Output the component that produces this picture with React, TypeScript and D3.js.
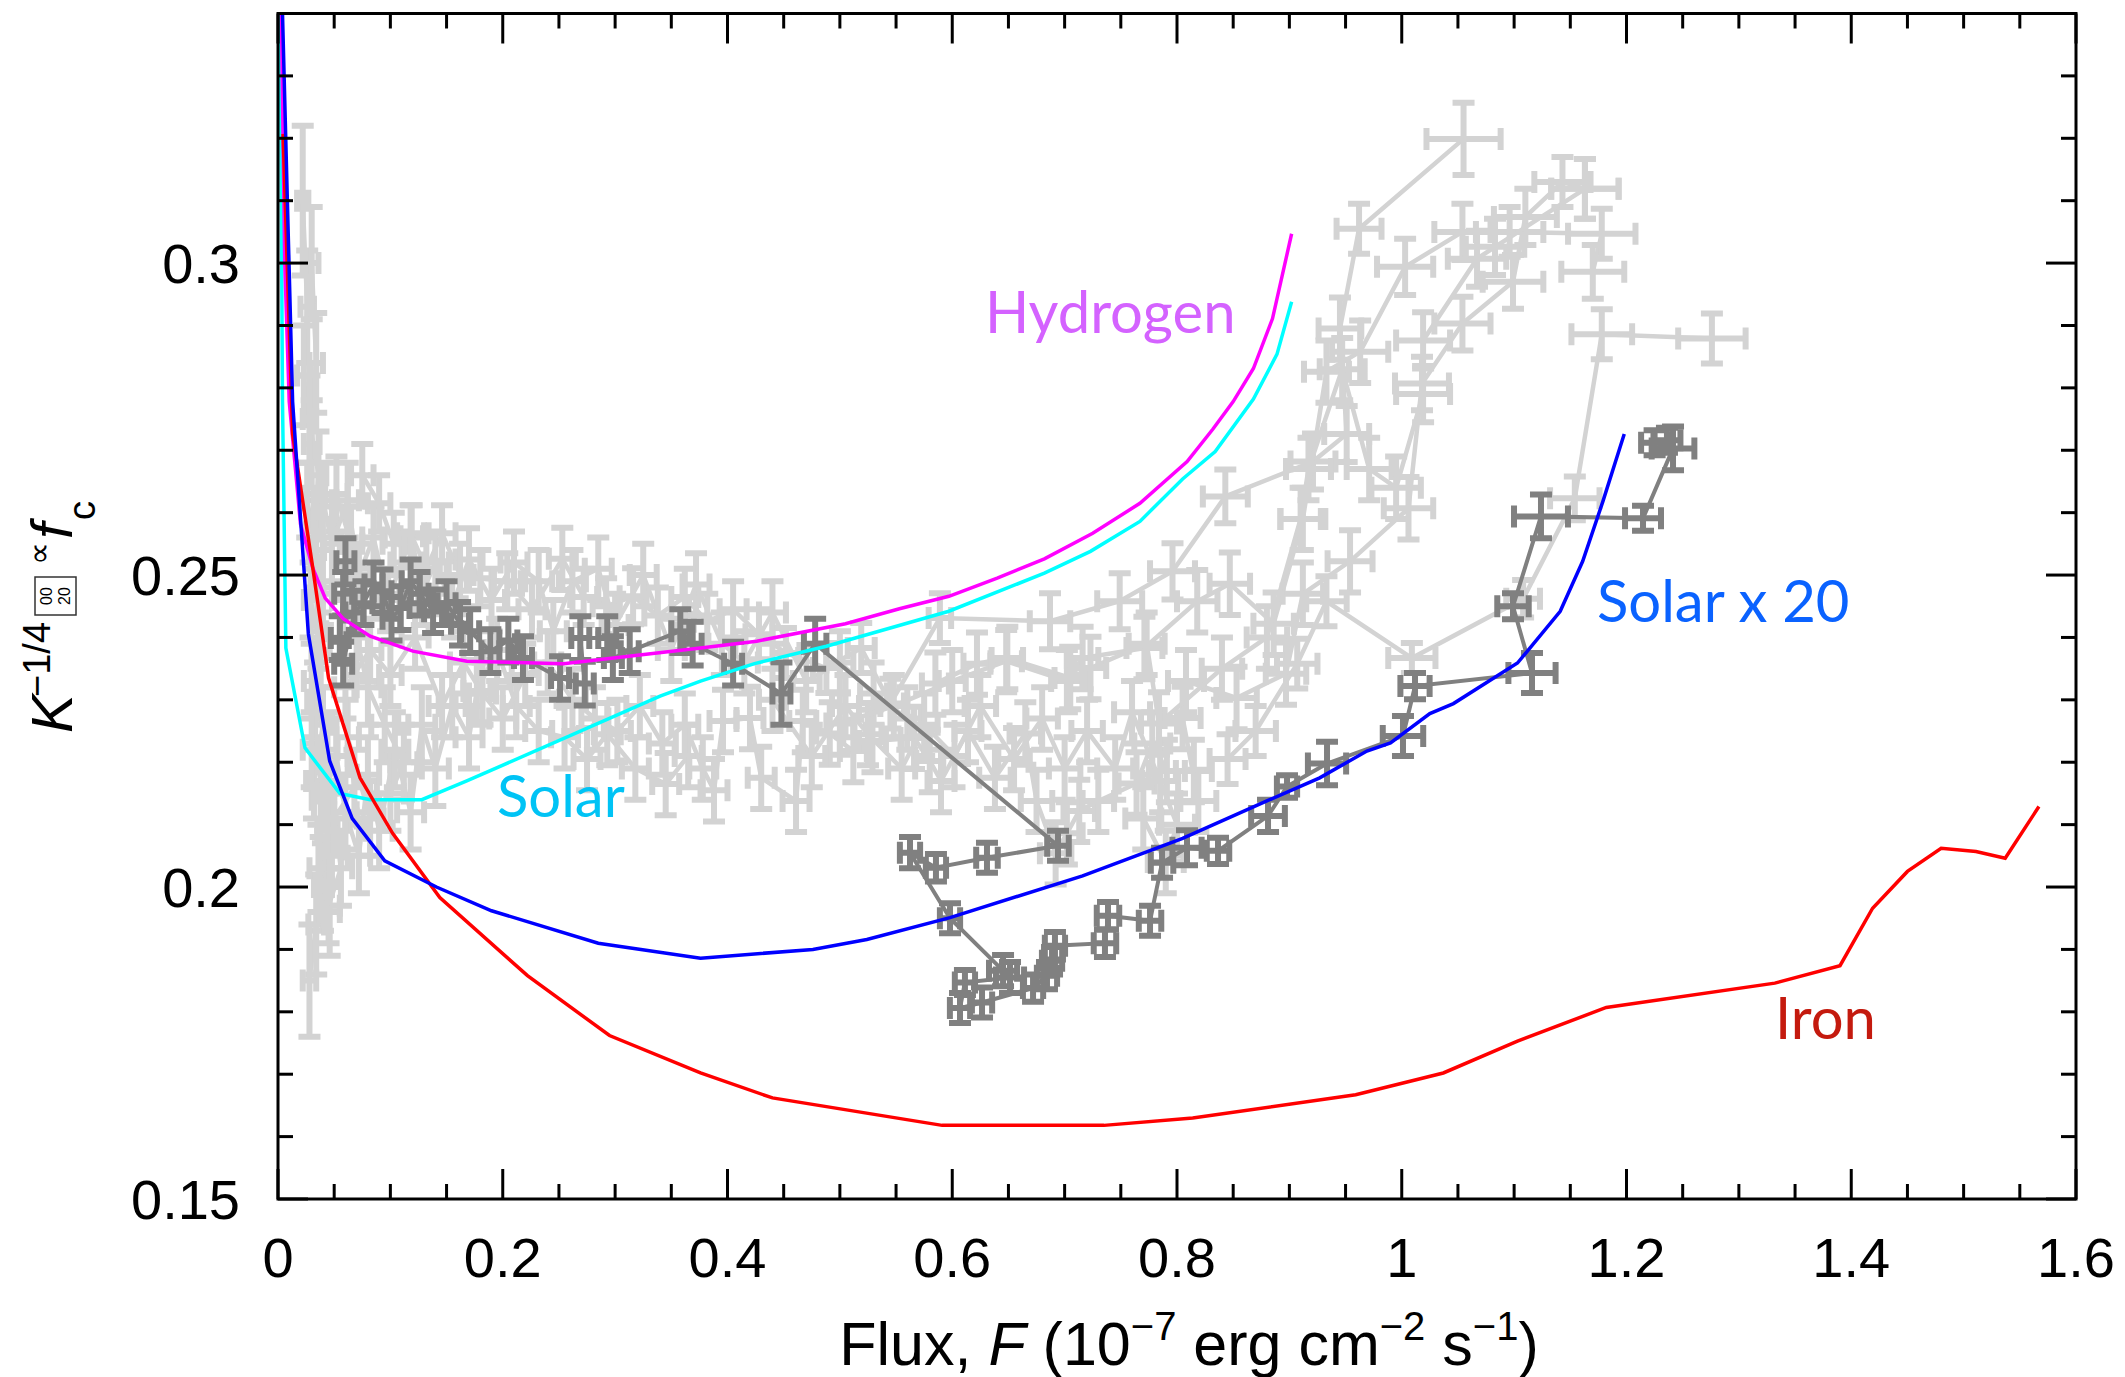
import React from 'react';
import * as d3 from 'd3';

const W = 2125;
const H = 1377;

// ---------- axis ticks ----------
const xTickValues = [0, 0.2, 0.4, 0.6, 0.8, 1, 1.2, 1.4, 1.6];
const xTickLabels = ['0', '0.2', '0.4', '0.6', '0.8', '1', '1.2', '1.4', '1.6'];
const yTickValues = [0.15, 0.2, 0.25, 0.3];
const yTickLabels = ['0.15', '0.2', '0.25', '0.3'];

// ---------- model curves [flux, value] ----------
const hydrogen: [number, number][] = [
  [0.003, 0.340], [0.006, 0.300], [0.010, 0.2778], [0.020, 0.2582], [0.031, 0.2511], [0.042, 0.2463],
  [0.058, 0.2430], [0.082, 0.2402], [0.120, 0.2378], [0.168, 0.2362], [0.254, 0.2358], [0.376, 0.2383],
  [0.426, 0.2394], [0.505, 0.2422], [0.553, 0.2446], [0.597, 0.2466], [0.640, 0.2495], [0.682, 0.2526],
  [0.725, 0.2567], [0.767, 0.2615], [0.809, 0.2682], [0.832, 0.2734], [0.850, 0.2778], [0.868, 0.2831],
  [0.885, 0.2911], [0.902, 0.3047],
];
const solar: [number, number][] = [
  [0.002, 0.340], [0.004, 0.2778], [0.007, 0.2383], [0.024, 0.2223], [0.055, 0.2150], [0.082, 0.2140],
  [0.128, 0.2140], [0.168, 0.2170], [0.340, 0.2306], [0.376, 0.2330], [0.424, 0.2358], [0.488, 0.2386],
  [0.597, 0.2442], [0.682, 0.2503], [0.723, 0.2538], [0.767, 0.2586], [0.805, 0.2654], [0.834, 0.2698],
  [0.868, 0.2782], [0.889, 0.2854], [0.902, 0.2938],
];
const solar20: [number, number][] = [
  [0.004, 0.340], [0.013, 0.2778], [0.027, 0.2406], [0.046, 0.2202], [0.066, 0.2110], [0.095, 0.2042],
  [0.141, 0.2000], [0.190, 0.1962], [0.285, 0.1910], [0.376, 0.1886], [0.476, 0.1900], [0.524, 0.1916],
  [0.598, 0.1951], [0.716, 0.2018], [0.805, 0.2078], [0.880, 0.2138], [0.927, 0.2175], [0.969, 0.2218],
  [0.990, 0.2231], [1.025, 0.2278], [1.046, 0.2294], [1.103, 0.2359], [1.141, 0.2442], [1.161, 0.2522],
  [1.179, 0.2618], [1.198, 0.2726],
];
const iron: [number, number][] = [
  [0.0045, 0.3207], [0.013, 0.2726], [0.031, 0.2511], [0.045, 0.2335], [0.073, 0.2175], [0.102, 0.2086],
  [0.144, 0.1983], [0.222, 0.1858], [0.295, 0.1762], [0.376, 0.1702], [0.440, 0.1662], [0.591, 0.1618],
  [0.735, 0.1618], [0.814, 0.1630], [0.959, 0.1667], [1.037, 0.1702], [1.103, 0.1753], [1.182, 0.1807],
  [1.332, 0.1846], [1.390, 0.1874], [1.419, 0.1966], [1.450, 0.2025], [1.480, 0.2062], [1.511, 0.2057],
  [1.537, 0.2046], [1.567, 0.2129],
];

// ---------- observations [flux, value, fluxErr, valueErr] ----------
type Pt = [number, number, number, number];

const lightA: Pt[] = [
  [0.022, 0.310, 0.005, 0.012], [0.026, 0.293, 0.006, 0.009], [0.023, 0.282, 0.006, 0.008],
  [0.030, 0.271, 0.007, 0.007], [0.026, 0.262, 0.006, 0.006], [0.034, 0.254, 0.007, 0.006],
  [0.029, 0.246, 0.006, 0.006], [0.038, 0.238, 0.008, 0.006], [0.033, 0.230, 0.007, 0.006],
  [0.044, 0.222, 0.009, 0.006], [0.038, 0.214, 0.008, 0.006], [0.048, 0.206, 0.010, 0.006],
  [0.040, 0.200, 0.008, 0.007], [0.034, 0.194, 0.007, 0.008], [0.028, 0.185, 0.006, 0.009],
];
const lightA2: Pt[] = [
  [0.030, 0.300, 0.006, 0.009], [0.034, 0.284, 0.006, 0.008], [0.028, 0.275, 0.006, 0.007],
  [0.036, 0.266, 0.007, 0.007], [0.032, 0.257, 0.007, 0.006], [0.040, 0.248, 0.008, 0.006],
  [0.036, 0.241, 0.007, 0.006], [0.030, 0.233, 0.007, 0.006], [0.040, 0.226, 0.008, 0.006],
  [0.032, 0.217, 0.007, 0.006], [0.044, 0.209, 0.009, 0.006], [0.036, 0.203, 0.008, 0.007],
  [0.046, 0.196, 0.009, 0.007],
];
const lightB: Pt[] = [
  [0.045, 0.197, 0.010, 0.006], [0.056, 0.203, 0.010, 0.006], [0.050, 0.211, 0.010, 0.006],
  [0.068, 0.216, 0.010, 0.006], [0.062, 0.224, 0.010, 0.006], [0.082, 0.211, 0.012, 0.006],
  [0.100, 0.215, 0.012, 0.006], [0.112, 0.220, 0.012, 0.006], [0.095, 0.226, 0.012, 0.006],
  [0.080, 0.232, 0.012, 0.006], [0.070, 0.240, 0.010, 0.006], [0.058, 0.246, 0.010, 0.006],
  [0.065, 0.255, 0.010, 0.006], [0.052, 0.263, 0.010, 0.006],
];
const lightC: Pt[] = [
  [0.075, 0.266, 0.010, 0.005], [0.090, 0.2615, 0.010, 0.0045], [0.103, 0.255, 0.010, 0.005],
  [0.118, 0.2567, 0.012, 0.0045], [0.132, 0.251, 0.012, 0.005], [0.146, 0.2567, 0.012, 0.0045],
  [0.162, 0.250, 0.012, 0.005], [0.180, 0.2495, 0.012, 0.0045], [0.204, 0.249, 0.012, 0.0045],
  [0.226, 0.2445, 0.012, 0.0045], [0.253, 0.2526, 0.012, 0.005], [0.272, 0.2465, 0.012, 0.0045],
  [0.292, 0.245, 0.012, 0.0045], [0.316, 0.2466, 0.012, 0.0045], [0.338, 0.2435, 0.012, 0.0045],
  [0.362, 0.2465, 0.012, 0.0045], [0.382, 0.2425, 0.012, 0.0045], [0.405, 0.2445, 0.012, 0.0045],
  [0.428, 0.2405, 0.012, 0.004], [0.452, 0.2375, 0.012, 0.004], [0.488, 0.2351, 0.012, 0.004],
  [0.519, 0.2383, 0.012, 0.004], [0.545, 0.2294, 0.012, 0.004], [0.589, 0.2431, 0.010, 0.004],
  [0.687, 0.2426, 0.018, 0.0045], [0.749, 0.2458, 0.020, 0.0045], [0.796, 0.2506, 0.020, 0.0045],
  [0.843, 0.2626, 0.020, 0.0043], [0.921, 0.2682, 0.020, 0.0045], [0.951, 0.2726, 0.020, 0.0045],
  [0.945, 0.2895, 0.019, 0.005], [0.962, 0.3055, 0.020, 0.004], [1.055, 0.3199, 0.033, 0.0058],
];
const lightD: Pt[] = [
  [0.060, 0.232, 0.010, 0.005], [0.082, 0.238, 0.010, 0.005], [0.100, 0.234, 0.010, 0.005],
  [0.122, 0.240, 0.012, 0.005], [0.146, 0.229, 0.012, 0.005], [0.165, 0.236, 0.012, 0.005],
  [0.182, 0.231, 0.012, 0.005], [0.200, 0.227, 0.012, 0.005], [0.220, 0.234, 0.012, 0.005],
  [0.240, 0.236, 0.012, 0.005], [0.262, 0.230, 0.012, 0.005], [0.282, 0.227, 0.012, 0.005],
  [0.302, 0.225, 0.012, 0.005], [0.322, 0.229, 0.012, 0.005], [0.342, 0.223, 0.012, 0.005],
  [0.362, 0.226, 0.012, 0.005], [0.378, 0.219, 0.012, 0.005], [0.388, 0.2155, 0.012, 0.005],
  [0.396, 0.2266, 0.012, 0.005], [0.420, 0.2271, 0.012, 0.005], [0.430, 0.2175, 0.012, 0.005],
  [0.461, 0.2138, 0.012, 0.005], [0.467, 0.2266, 0.012, 0.005], [0.491, 0.2246, 0.012, 0.005],
  [0.512, 0.2218, 0.012, 0.005], [0.529, 0.2234, 0.012, 0.005], [0.566, 0.2239, 0.012, 0.005],
  [0.580, 0.2202, 0.012, 0.005], [0.590, 0.2170, 0.012, 0.005], [0.614, 0.2250, 0.012, 0.005],
  [0.638, 0.2175, 0.014, 0.005], [0.665, 0.2246, 0.014, 0.005], [0.675, 0.2138, 0.014, 0.005],
  [0.692, 0.2054, 0.014, 0.005], [0.702, 0.2086, 0.014, 0.005], [0.713, 0.2122, 0.014, 0.005],
  [0.730, 0.2138, 0.014, 0.005], [0.764, 0.2166, 0.016, 0.005], [0.778, 0.2230, 0.016, 0.005],
  [0.791, 0.2186, 0.016, 0.005], [0.815, 0.2186, 0.016, 0.005], [0.819, 0.2138, 0.016, 0.005],
  [0.805, 0.2271, 0.016, 0.005], [0.808, 0.2330, 0.016, 0.005], [0.853, 0.2303, 0.018, 0.005],
  [0.897, 0.2342, 0.018, 0.005], [0.912, 0.2470, 0.018, 0.005], [0.954, 0.2522, 0.020, 0.005],
  [1.006, 0.2607, 0.022, 0.005], [1.018, 0.2807, 0.024, 0.0043], [1.054, 0.2903, 0.025, 0.0043],
  [1.099, 0.2970, 0.027, 0.0043], [1.110, 0.3074, 0.028, 0.0045], [1.143, 0.3130, 0.025, 0.004],
  [1.163, 0.3119, 0.030, 0.0048],
];
const lightE: Pt[] = [
  [0.500, 0.2262, 0.012, 0.005], [0.548, 0.2290, 0.012, 0.005], [0.600, 0.2330, 0.012, 0.005],
  [0.648, 0.2362, 0.014, 0.005], [0.702, 0.2330, 0.014, 0.005], [0.716, 0.2367, 0.014, 0.005],
  [0.771, 0.2383, 0.016, 0.005], [0.818, 0.2458, 0.018, 0.005], [0.847, 0.2486, 0.018, 0.005],
  [0.886, 0.2422, 0.018, 0.005], [0.912, 0.2590, 0.020, 0.005], [0.933, 0.2826, 0.020, 0.005],
  [0.963, 0.2858, 0.025, 0.005], [1.003, 0.2994, 0.025, 0.0045], [1.054, 0.3050, 0.025, 0.0045],
  [1.096, 0.3050, 0.030, 0.004], [1.178, 0.3047, 0.030, 0.004], [1.170, 0.2986, 0.028, 0.0043],
];
const lightF: Pt[] = [
  [0.585, 0.2326, 0.012, 0.005], [0.622, 0.2358, 0.012, 0.005], [0.649, 0.2367, 0.014, 0.005],
  [0.705, 0.2335, 0.014, 0.005], [0.723, 0.2351, 0.014, 0.005], [0.773, 0.2390, 0.016, 0.005],
  [0.784, 0.2262, 0.016, 0.005], [0.840, 0.2350, 0.018, 0.005], [0.880, 0.2400, 0.018, 0.005],
  [0.910, 0.2590, 0.018, 0.005], [0.917, 0.2670, 0.020, 0.005], [0.947, 0.2830, 0.020, 0.005],
  [0.971, 0.2670, 0.020, 0.005], [0.995, 0.2640, 0.022, 0.005], [1.019, 0.2790, 0.024, 0.0045],
  [1.019, 0.2876, 0.024, 0.0045], [1.067, 0.3007, 0.026, 0.0045], [1.083, 0.3026, 0.026, 0.0045],
  [1.163, 0.3119, 0.030, 0.0048],
];
const lightG: Pt[] = [
  [1.276, 0.2879, 0.030, 0.004], [1.178, 0.2886, 0.027, 0.004], [1.154, 0.2623, 0.022, 0.0035],
  [1.108, 0.2462, 0.015, 0.003], [1.009, 0.2367, 0.021, 0.0024], [0.933, 0.2458, 0.018, 0.004],
  [0.907, 0.2358, 0.018, 0.004], [0.870, 0.2250, 0.018, 0.004], [0.845, 0.2205, 0.016, 0.004],
];
const lightH: Pt[] = [
  [0.040, 0.262, 0.008, 0.006], [0.048, 0.255, 0.008, 0.006], [0.062, 0.262, 0.010, 0.006],
  [0.072, 0.250, 0.010, 0.005], [0.085, 0.256, 0.010, 0.005], [0.098, 0.246, 0.010, 0.005],
  [0.110, 0.252, 0.010, 0.005], [0.119, 0.2562, 0.010, 0.005], [0.128, 0.247, 0.012, 0.005],
  [0.140, 0.252, 0.012, 0.005], [0.155, 0.245, 0.012, 0.005], [0.170, 0.2525, 0.012, 0.005],
  [0.190, 0.246, 0.012, 0.005], [0.210, 0.252, 0.012, 0.005], [0.232, 0.249, 0.012, 0.005],
  [0.245, 0.241, 0.012, 0.005], [0.262, 0.249, 0.012, 0.005], [0.285, 0.251, 0.012, 0.005],
  [0.300, 0.242, 0.012, 0.005], [0.325, 0.250, 0.012, 0.005], [0.350, 0.238, 0.012, 0.005],
  [0.372, 0.2485, 0.012, 0.005], [0.395, 0.239, 0.012, 0.005], [0.415, 0.236, 0.012, 0.005],
  [0.440, 0.244, 0.012, 0.005], [0.470, 0.233, 0.012, 0.005], [0.500, 0.236, 0.012, 0.005],
  [0.530, 0.231, 0.012, 0.005], [0.560, 0.227, 0.012, 0.005],
];
const lightI: Pt[] = [
  [0.030, 0.222, 0.008, 0.006], [0.042, 0.215, 0.008, 0.006], [0.052, 0.221, 0.010, 0.006],
  [0.060, 0.212, 0.010, 0.006], [0.072, 0.205, 0.010, 0.006], [0.080, 0.218, 0.010, 0.006],
  [0.090, 0.209, 0.012, 0.006], [0.104, 0.222, 0.012, 0.006], [0.118, 0.212, 0.012, 0.006],
  [0.128, 0.226, 0.012, 0.006], [0.140, 0.219, 0.012, 0.006], [0.155, 0.229, 0.012, 0.005],
  [0.170, 0.224, 0.012, 0.005], [0.177, 0.2314, 0.012, 0.005], [0.195, 0.238, 0.012, 0.005],
  [0.212, 0.229, 0.012, 0.005], [0.232, 0.225, 0.012, 0.005], [0.255, 0.224, 0.012, 0.005],
  [0.275, 0.2205, 0.012, 0.005], [0.293, 0.2245, 0.012, 0.005], [0.318, 0.219, 0.012, 0.005],
  [0.345, 0.2165, 0.012, 0.005], [0.365, 0.221, 0.012, 0.005],
];
const lightJ: Pt[] = [
  [0.440, 0.230, 0.012, 0.005], [0.475, 0.221, 0.012, 0.005], [0.505, 0.229, 0.012, 0.005],
  [0.525, 0.2245, 0.012, 0.005], [0.555, 0.219, 0.012, 0.005], [0.575, 0.226, 0.012, 0.005],
  [0.602, 0.221, 0.012, 0.005], [0.625, 0.229, 0.014, 0.005], [0.655, 0.2205, 0.014, 0.005],
  [0.680, 0.227, 0.014, 0.005], [0.700, 0.219, 0.014, 0.005], [0.720, 0.225, 0.014, 0.005],
  [0.745, 0.219, 0.016, 0.005], [0.760, 0.228, 0.016, 0.005], [0.785, 0.217, 0.016, 0.005],
  [0.800, 0.210, 0.016, 0.005], [0.790, 0.204, 0.016, 0.005], [0.770, 0.211, 0.016, 0.005],
];
const lightTracks: Pt[][] = [lightA, lightA2, lightB, lightI, lightH, lightC, lightD, lightJ, lightE, lightF, lightG];

const darkTrack: Pt[] = [
  [0.060, 0.2522, 0.008, 0.0037], [0.058, 0.2470, 0.008, 0.0035], [0.055, 0.2399, 0.008, 0.0035],
  [0.058, 0.2358, 0.008, 0.0035], [0.068, 0.2440, 0.008, 0.0035], [0.076, 0.2455, 0.008, 0.0035],
  [0.085, 0.2485, 0.008, 0.0035], [0.093, 0.2474, 0.008, 0.0035], [0.101, 0.2430, 0.008, 0.0035],
  [0.109, 0.2447, 0.008, 0.0035], [0.118, 0.2490, 0.008, 0.0035], [0.126, 0.2470, 0.008, 0.0035],
  [0.138, 0.2442, 0.008, 0.0035], [0.150, 0.2455, 0.008, 0.0035], [0.162, 0.2422, 0.008, 0.0035],
  [0.171, 0.2410, 0.008, 0.0035], [0.189, 0.2378, 0.008, 0.0035], [0.205, 0.2395, 0.008, 0.0035],
  [0.218, 0.2367, 0.008, 0.0035], [0.251, 0.2335, 0.008, 0.0035], [0.273, 0.2326, 0.008, 0.0035],
  [0.269, 0.2399, 0.008, 0.0035], [0.293, 0.2399, 0.008, 0.0035], [0.298, 0.2367, 0.008, 0.0035],
  [0.313, 0.2378, 0.008, 0.0035], [0.358, 0.2410, 0.008, 0.0035], [0.369, 0.2390, 0.008, 0.0035],
  [0.405, 0.2358, 0.008, 0.0035], [0.448, 0.2310, 0.008, 0.0050], [0.478, 0.2390, 0.010, 0.0040],
  [0.6941, 0.2066, 0.0096, 0.0024], [0.6309, 0.2047, 0.0096, 0.0024], [0.5855, 0.2031, 0.009, 0.0022],
  [0.5624, 0.2055, 0.009, 0.0025], [0.5980, 0.1950, 0.009, 0.0024], [0.6452, 0.1866, 0.0125, 0.0025],
  [0.6514, 0.1855, 0.0125, 0.0025], [0.6113, 0.1847, 0.009, 0.0020], [0.6069, 0.1806, 0.009, 0.0024],
  [0.6265, 0.1815, 0.009, 0.0024], [0.6719, 0.1838, 0.009, 0.0022], [0.6843, 0.1858, 0.009, 0.0022],
  [0.6888, 0.1882, 0.009, 0.0022], [0.6914, 0.1906, 0.009, 0.0022], [0.7359, 0.1910, 0.010, 0.0022],
  [0.7386, 0.1954, 0.010, 0.0022], [0.7760, 0.1946, 0.010, 0.0024], [0.7867, 0.2039, 0.010, 0.0024],
  [0.8089, 0.2063, 0.013, 0.0028], [0.8365, 0.2058, 0.010, 0.0021], [0.8810, 0.2114, 0.015, 0.0026],
  [0.8979, 0.2161, 0.009, 0.0018], [0.9335, 0.2198, 0.017, 0.0035], [1.0011, 0.2242, 0.018, 0.0032],
  [1.0118, 0.2322, 0.013, 0.0021], [1.1159, 0.2343, 0.021, 0.0032], [1.0990, 0.2450, 0.014, 0.0021],
  [1.1239, 0.2594, 0.024, 0.0035], [1.2147, 0.2591, 0.016, 0.0020], [1.2414, 0.2703, 0.019, 0.0035],
  [1.2250, 0.2712, 0.012, 0.0020], [1.2360, 0.2716, 0.012, 0.0020],
];

// ---------- layout ----------
const left = 278;
const right = 2076;
const top = 13.5;
const bottom = 1199;

const xs = d3.scaleLinear().domain([0, 1.6]).range([left, right]);
const ys = d3.scaleLinear().domain([0.15, 0.34]).range([bottom, top]);

const CAP = 11;

function errPath(p: Pt): string {
  const [x, y, ex, ey] = p;
  const cx = xs(x);
  const cy = ys(y);
  const x0 = xs(x - ex);
  const x1 = xs(x + ex);
  const y0 = ys(y + ey);
  const y1 = ys(y - ey);
  return (
    `M${x0},${cy}H${x1}M${cx},${y0}V${y1}` +
    `M${x0},${cy - CAP}V${cy + CAP}M${x1},${cy - CAP}V${cy + CAP}` +
    `M${cx - CAP},${y0}H${cx + CAP}M${cx - CAP},${y1}H${cx + CAP}`
  );
}

const trackLine = d3
  .line<Pt>()
  .x((d) => xs(d[0]))
  .y((d) => ys(d[1]));

const curveLine = d3
  .line<[number, number]>()
  .x((d) => xs(d[0]))
  .y((d) => ys(d[1]));

const LIGHT = '#d3d3d3';
const DARK = '#808080';
const SANS = '"Liberation Sans", Arial, Helvetica, sans-serif';
const LABEL_FONT = 'Lato, "Open Sans", sans-serif';

export default function App() {
  const xMinor = d3.range(0, 1.6001, 0.05);
  const yMinor = d3.range(0.15, 0.3401, 0.01);
  const isMajorX = (v: number) => Math.abs(v / 0.2 - Math.round(v / 0.2)) < 1e-6;
  const isMajorY = (v: number) => Math.abs(v / 0.05 - Math.round(v / 0.05)) < 1e-6;

  return (
    <svg
      width={W}
      height={H}
      viewBox={`0 0 ${W} ${H}`}
      style={{ position: 'absolute', left: 0, top: 0, background: '#fff' }}
    >
      <defs>
        <clipPath id="plotClip">
          <rect x={left} y={top} width={right - left} height={bottom - top} />
        </clipPath>
      </defs>
      <rect x={0} y={0} width={W} height={H} fill="#fff" />

      <g clipPath="url(#plotClip)">
        {/* light gray observations */}
        {lightTracks.map((t, i) => (
          <g key={'lt' + i}>
            <path d={trackLine(t) || ''} fill="none" stroke={LIGHT} strokeWidth={4.5} />
            {t.map((p, j) => (
              <path key={j} d={errPath(p)} fill="none" stroke={LIGHT} strokeWidth={6} />
            ))}
          </g>
        ))}
        {/* dark gray observations */}
        <path d={trackLine(darkTrack) || ''} fill="none" stroke={DARK} strokeWidth={4} />
        {darkTrack.map((p, j) => (
          <path key={'d' + j} d={errPath(p)} fill="none" stroke={DARK} strokeWidth={6} />
        ))}

        {/* model curves */}
        <path d={curveLine(solar) || ''} fill="none" stroke="#00ffff" strokeWidth={3.5} />
        <path d={curveLine(hydrogen) || ''} fill="none" stroke="#ff00ff" strokeWidth={3.5} />
        <path d={curveLine(iron) || ''} fill="none" stroke="#ff0000" strokeWidth={3.5} />
        <path d={curveLine(solar20) || ''} fill="none" stroke="#0000ff" strokeWidth={3.5} />
      </g>

      {/* frame */}
      <rect x={left} y={top} width={right - left} height={bottom - top} fill="none" stroke="#000" strokeWidth={3} />

      {/* ticks */}
      {xMinor.map((v, i) => {
        const L = isMajorX(v) ? 30 : 15;
        const X = xs(v);
        return (
          <g key={'xt' + i} stroke="#000" strokeWidth={3}>
            <line x1={X} x2={X} y1={bottom} y2={bottom - L} />
            <line x1={X} x2={X} y1={top} y2={top + L} />
          </g>
        );
      })}
      {yMinor.map((v, i) => {
        const L = isMajorY(v) ? 30 : 15;
        const Y = ys(v);
        return (
          <g key={'yt' + i} stroke="#000" strokeWidth={3}>
            <line x1={left} x2={left + L} y1={Y} y2={Y} />
            <line x1={right} x2={right - L} y1={Y} y2={Y} />
          </g>
        );
      })}

      {/* tick labels */}
      {xTickValues.map((v, i) => (
        <text key={'xl' + i} x={xs(v)} y={1277} textAnchor="middle" fontFamily={SANS} fontSize={56} fill="#000">
          {xTickLabels[i]}
        </text>
      ))}
      {yTickValues.map((v, i) => (
        <text key={'yl' + i} x={240} y={ys(v) + 20} textAnchor="end" fontFamily={SANS} fontSize={56} fill="#000">
          {yTickLabels[i]}
        </text>
      ))}

      {/* x axis title */}
      <text x={1189} y={1365} textAnchor="middle" fontFamily={SANS} fontSize={61} fill="#000">
        Flux,{' '}
        <tspan fontStyle="italic">F</tspan> (10
        <tspan fontSize={40} dy={-25}>−7</tspan>
        <tspan dy={25}> erg cm</tspan>
        <tspan fontSize={40} dy={-25}>−2</tspan>
        <tspan dy={25}> s</tspan>
        <tspan fontSize={40} dy={-25}>−1</tspan>
        <tspan dy={25}>)</tspan>
      </text>

      {/* y axis title */}
      <g transform="translate(72,733) rotate(-90)" fontFamily={SANS} fill="#000">
        <text x={0} y={0} fontSize={58} fontStyle="italic">K</text>
        <text x={36} y={-22} fontSize={38}>−1/4</text>
        <rect x={118} y={-37} width={38} height={41} fill="none" stroke="#333" strokeWidth={1.5} />
        <text x={137} y={-20} fontSize={16} textAnchor="middle">00</text>
        <text x={137} y={-2} fontSize={16} textAnchor="middle">20</text>
        <text x={168} y={-22} fontSize={32}>∝</text>
        <text x={194} y={0} fontSize={58} fontStyle="italic">f</text>
        <text x={213} y={23} fontSize={38}>c</text>
      </g>

      {/* curve labels */}
      <text x={985} y={333} fontFamily={LABEL_FONT} fontSize={58} fill="#d462ff">Hydrogen</text>
      <text x={497} y={817} fontFamily={LABEL_FONT} fontSize={58} fill="#00c3f5">Solar</text>
      <text x={1597} y={622} fontFamily={LABEL_FONT} fontSize={58} fill="#0a62ff">Solar x 20</text>
      <text x={1775} y={1039} fontFamily={LABEL_FONT} fontSize={58} fill="#c41a0e">Iron</text>
    </svg>
  );
}
